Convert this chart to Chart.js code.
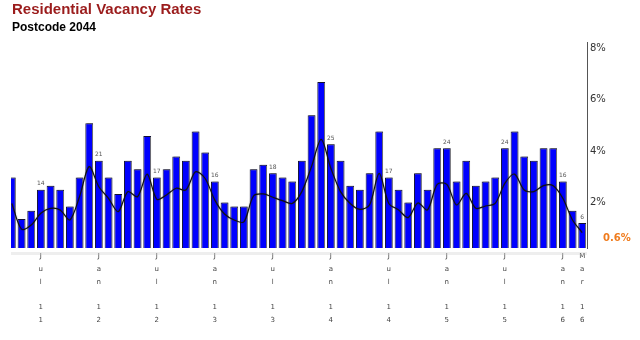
<!DOCTYPE html>
<html>
<head>
<meta charset="utf-8">
<title>Residential Vacancy Rates</title>
<script src="https://cdn.jsdelivr.net/npm/chart.js@4.4.1/dist/chart.umd.min.js"></script>
<style>
  html, body { margin: 0; padding: 0; background: #fff; }
  #wrap { position: relative; width: 640px; height: 340px; overflow: hidden; }
  #chart { position: absolute; left: 0; top: 0; }
  #title { position: absolute; left: 12px; top: 1px; font: bold 15px/15px "Liberation Sans", Arial, sans-serif; color: #9b1c1c; white-space: nowrap; }
  #subtitle { position: absolute; left: 12px; top: 21px; font: bold 12px/12px "Liberation Sans", Arial, sans-serif; color: #000; white-space: nowrap; }
</style>
</head>
<body>
<div id="wrap">
  <canvas id="chart" width="640" height="340"></canvas>
  <div id="title">Residential Vacancy Rates</div>
  <div id="subtitle">Postcode 2044</div>
</div>
<script>
// Monthly categories, April 2011 to March 2016
const months = [
  'Apr 11','May 11','Jun 11','Jul 11','Aug 11','Sep 11','Oct 11','Nov 11','Dec 11',
  'Jan 12','Feb 12','Mar 12','Apr 12','May 12','Jun 12','Jul 12','Aug 12','Sep 12','Oct 12','Nov 12','Dec 12',
  'Jan 13','Feb 13','Mar 13','Apr 13','May 13','Jun 13','Jul 13','Aug 13','Sep 13','Oct 13','Nov 13','Dec 13',
  'Jan 14','Feb 14','Mar 14','Apr 14','May 14','Jun 14','Jul 14','Aug 14','Sep 14','Oct 14','Nov 14','Dec 14',
  'Jan 15','Feb 15','Mar 15','Apr 15','May 15','Jun 15','Jul 15','Aug 15','Sep 15','Oct 15','Nov 15','Dec 15',
  'Jan 16','Feb 16','Mar 16'
];

// Postcode vacancy rate (%) per month (bars)
const vacancyRate = [
  2.74, 1.13, 1.45, 2.26, 2.42, 2.26, 1.61, 2.74, 4.84,
  3.39, 2.74, 2.10, 3.39, 3.06, 4.35, 2.74, 3.06, 3.55, 3.39, 4.52, 3.71,
  2.58, 1.77, 1.61, 1.61, 3.06, 3.23, 2.90, 2.74, 2.58, 3.39, 5.16, 6.45,
  4.03, 3.39, 2.42, 2.26, 2.90, 4.52, 2.74, 2.26, 1.77, 2.90, 2.26, 3.87,
  3.87, 2.58, 3.39, 2.42, 2.58, 2.74, 3.87, 4.52, 3.55, 3.39, 3.87, 3.87,
  2.58, 1.45, 0.97
];

// Comparison vacancy rate (%) per month (black line)
const comparisonRate = [
  1.73, 0.73, 0.89, 1.35, 1.54, 1.48, 1.09, 1.99, 3.16,
  2.38, 1.93, 1.41, 2.19, 1.99, 2.87, 1.89, 2.06, 2.32, 2.25, 2.96, 2.70,
  1.86, 1.32, 1.09, 1.01, 2.02, 2.10, 1.97, 1.84, 1.73, 2.19, 3.16, 4.22,
  3.10, 2.19, 1.73, 1.50, 1.67, 2.90, 1.73, 1.48, 1.18, 1.75, 1.48, 2.47,
  2.47, 1.67, 2.12, 1.54, 1.63, 1.73, 2.51, 2.87, 2.25, 2.19, 2.42, 2.42,
  1.93, 1.09, 0.60
];

// Months that carry an axis label and a vacancy count above their bar
const tickMonths = ['Jul 11','Jan 12','Jul 12','Jan 13','Jul 13','Jan 14','Jul 14','Jan 15','Jul 15','Jan 16','Mar 16'];
const vacancyCounts = [14, 21, 17, 16, 18, 25, 17, 24, 24, 16, 6];

// Right axis ticks (%)
const rateTicks = [2, 4, 6, 8];

const clipBox = { left: -4, top: 20, right: 4, bottom: 4 };

// Gray drop edge on the bars, soft halo on the line
const shadowPlugin = {
  id: 'markShadow',
  beforeDatasetDraw(chart, args) {
    const ctx = chart.ctx;
    ctx.save();
    if (args.index === 0) {
      ctx.shadowColor = 'rgba(120,120,120,0.9)';
      ctx.shadowOffsetX = 1.5;
      ctx.shadowOffsetY = 0;
      ctx.shadowBlur = 0;
    } else {
      ctx.shadowColor = 'rgba(0,0,0,0.3)';
      ctx.shadowBlur = 2;
    }
  },
  afterDatasetDraw(chart) {
    chart.ctx.restore();
  }
};

// Vacancy counts above selected bars, faint base line, and latest-value marker on the axis
const annotatePlugin = {
  id: 'annotate',
  afterDatasetsDraw(chart) {
    const ctx = chart.ctx;
    const area = chart.chartArea;
    const bars = chart.getDatasetMeta(0).data;
    ctx.save();
    ctx.fillStyle = 'rgba(200,200,200,0.3)';
    ctx.fillRect(area.left + 4, area.bottom + 4, area.right - area.left - 4, 3);
    ctx.font = '6px "DejaVu Sans", sans-serif';
    ctx.fillStyle = '#555';
    ctx.textAlign = 'center';
    ctx.textBaseline = 'middle';
    tickMonths.forEach((m, k) => {
      const bar = bars[months.indexOf(m)];
      if (bar) ctx.fillText(String(vacancyCounts[k]), bar.x, bar.y - 6);
    });
    ctx.restore();
  },
  afterDraw(chart) {
    const ctx = chart.ctx;
    const last = comparisonRate[comparisonRate.length - 1];
    const y = chart.scales.y.getPixelForValue(last) + 6;
    ctx.save();
    ctx.font = 'bold 10px "DejaVu Sans", sans-serif';
    ctx.fillStyle = '#f07c1e';
    ctx.textAlign = 'left';
    ctx.textBaseline = 'middle';
    ctx.fillText(last.toFixed(1) + '%', 603, y);
    ctx.restore();
  }
};

new Chart(document.getElementById('chart'), {
  data: {
    labels: months,
    datasets: [
      {
        type: 'bar',
        label: 'Vacancy rate',
        data: vacancyRate,
        backgroundColor: '#0000ff',
        borderColor: '#111133',
        borderWidth: 1,
        barPercentage: 0.8,
        categoryPercentage: 1,
        clip: clipBox,
        order: 2
      },
      {
        type: 'line',
        label: 'Comparison',
        data: comparisonRate,
        borderColor: '#111',
        borderWidth: 1.2,
        pointRadius: 0,
        tension: 0.3,
        fill: false,
        clip: clipBox,
        order: 1
      }
    ]
  },
  options: {
    responsive: false,
    animation: false,
    devicePixelRatio: 1,
    layout: { padding: { left: 7, top: 42, right: 0, bottom: 0 } },
    plugins: {
      legend: { display: false },
      tooltip: { enabled: false },
      title: { display: false }
    },
    scales: {
      x: {
        type: 'category',
        offset: true,
        grid: { display: false, drawTicks: false },
        border: { display: false },
        ticks: {
          autoSkip: false,
          maxRotation: 0,
          minRotation: 0,
          padding: 2,
          color: '#444',
          font: { family: '"DejaVu Sans", sans-serif', size: 7, lineHeight: 1.83 },
          callback(value, index) {
            const m = months[index];
            if (!tickMonths.includes(m)) return '';
            const [mon, yr] = m.split(' ');
            return [...mon.split(''), '', ...yr.split('')];
          }
        },
        afterFit(scale) { scale.height = 92; }
      },
      y: {
        position: 'right',
        min: 0,
        max: 8,
        grid: { display: false, drawTicks: false },
        border: { display: true, color: '#555', width: 1 },
        afterBuildTicks(scale) {
          scale.ticks = [0, ...rateTicks].map(v => ({ value: v }));
        },
        ticks: {
          padding: 3,
          labelOffset: 6,
          color: '#333',
          font: { family: '"DejaVu Sans", sans-serif', size: 10 },
          callback(value) { return value === 0 ? '' : value + '%'; }
        },
        afterFit(scale) { scale.width = 53; }
      }
    }
  },
  plugins: [shadowPlugin, annotatePlugin]
});
</script>
</body>
</html>
